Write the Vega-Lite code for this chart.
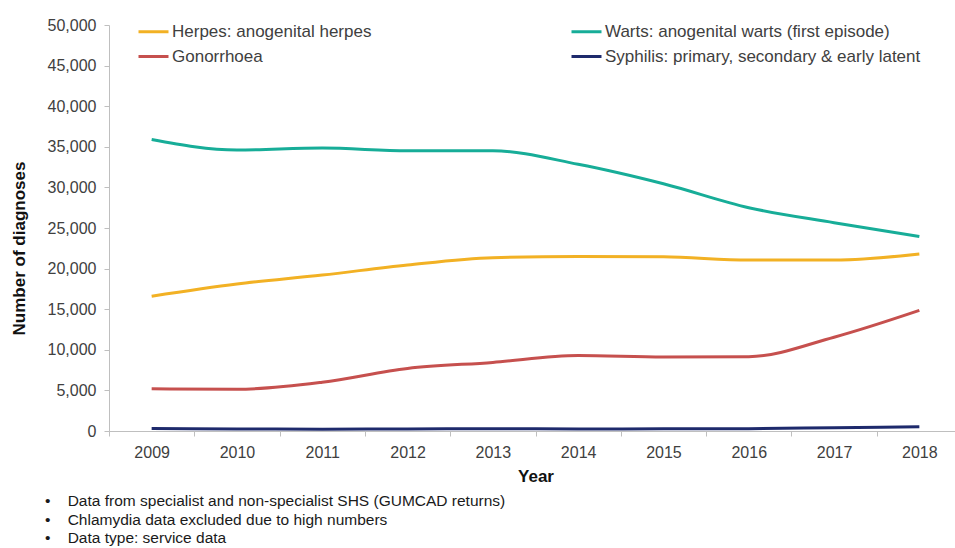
{
  "$schema": "https://vega.github.io/schema/vega-lite/v6.json",
  "width": 853,
  "height": 406,
  "autosize": {"type": "none"},
  "padding": {"left": 109, "top": 25, "right": 0, "bottom": 117},
  "background": "white",
  "config": {
    "view": {"stroke": null},
    "font": "Liberation Sans"
  },
  "title": {
    "text": [
      "•\u00a0\u00a0\u00a0\u00a0Data from specialist and non-specialist SHS (GUMCAD returns)",
      "•\u00a0\u00a0\u00a0\u00a0Chlamydia data excluded due to high numbers",
      "•\u00a0\u00a0\u00a0\u00a0Data type: service data"
    ],
    "orient": "bottom",
    "anchor": "start",
    "frame": "group",
    "dx": -64,
    "offset": 10,
    "fontSize": 15.5,
    "fontWeight": "normal",
    "color": "#1a1a1a",
    "lineHeight": 18.5
  },
  "data": {
    "values": [
      {"year": "2009", "infection": "Herpes: anogenital herpes", "diagnoses": 16600},
      {"year": "2010", "infection": "Herpes: anogenital herpes", "diagnoses": 18100},
      {"year": "2011", "infection": "Herpes: anogenital herpes", "diagnoses": 19200},
      {"year": "2012", "infection": "Herpes: anogenital herpes", "diagnoses": 20450},
      {"year": "2013", "infection": "Herpes: anogenital herpes", "diagnoses": 21350},
      {"year": "2014", "infection": "Herpes: anogenital herpes", "diagnoses": 21500},
      {"year": "2015", "infection": "Herpes: anogenital herpes", "diagnoses": 21450},
      {"year": "2016", "infection": "Herpes: anogenital herpes", "diagnoses": 21050},
      {"year": "2017", "infection": "Herpes: anogenital herpes", "diagnoses": 21050},
      {"year": "2018", "infection": "Herpes: anogenital herpes", "diagnoses": 21800},
      {"year": "2009", "infection": "Warts: anogenital warts (first episode)", "diagnoses": 35900},
      {"year": "2010", "infection": "Warts: anogenital warts (first episode)", "diagnoses": 34600},
      {"year": "2011", "infection": "Warts: anogenital warts (first episode)", "diagnoses": 34850},
      {"year": "2012", "infection": "Warts: anogenital warts (first episode)", "diagnoses": 34500},
      {"year": "2013", "infection": "Warts: anogenital warts (first episode)", "diagnoses": 34500},
      {"year": "2014", "infection": "Warts: anogenital warts (first episode)", "diagnoses": 32850},
      {"year": "2015", "infection": "Warts: anogenital warts (first episode)", "diagnoses": 30450},
      {"year": "2016", "infection": "Warts: anogenital warts (first episode)", "diagnoses": 27500},
      {"year": "2017", "infection": "Warts: anogenital warts (first episode)", "diagnoses": 25650},
      {"year": "2018", "infection": "Warts: anogenital warts (first episode)", "diagnoses": 23950},
      {"year": "2009", "infection": "Gonorrhoea", "diagnoses": 5200},
      {"year": "2010", "infection": "Gonorrhoea", "diagnoses": 5130},
      {"year": "2011", "infection": "Gonorrhoea", "diagnoses": 6000},
      {"year": "2012", "infection": "Gonorrhoea", "diagnoses": 7700},
      {"year": "2013", "infection": "Gonorrhoea", "diagnoses": 8450},
      {"year": "2014", "infection": "Gonorrhoea", "diagnoses": 9300},
      {"year": "2015", "infection": "Gonorrhoea", "diagnoses": 9100},
      {"year": "2016", "infection": "Gonorrhoea", "diagnoses": 9150},
      {"year": "2017", "infection": "Gonorrhoea", "diagnoses": 11550},
      {"year": "2018", "infection": "Gonorrhoea", "diagnoses": 14850},
      {"year": "2009", "infection": "Syphilis: primary, secondary & early latent", "diagnoses": 300},
      {"year": "2010", "infection": "Syphilis: primary, secondary & early latent", "diagnoses": 250},
      {"year": "2011", "infection": "Syphilis: primary, secondary & early latent", "diagnoses": 230},
      {"year": "2012", "infection": "Syphilis: primary, secondary & early latent", "diagnoses": 250},
      {"year": "2013", "infection": "Syphilis: primary, secondary & early latent", "diagnoses": 280},
      {"year": "2014", "infection": "Syphilis: primary, secondary & early latent", "diagnoses": 250},
      {"year": "2015", "infection": "Syphilis: primary, secondary & early latent", "diagnoses": 270},
      {"year": "2016", "infection": "Syphilis: primary, secondary & early latent", "diagnoses": 290},
      {"year": "2017", "infection": "Syphilis: primary, secondary & early latent", "diagnoses": 400},
      {"year": "2018", "infection": "Syphilis: primary, secondary & early latent", "diagnoses": 520}
    ]
  },
  "mark": {"type": "line", "interpolate": "monotone", "strokeWidth": 3},
  "encoding": {
    "x": {
      "field": "year",
      "type": "ordinal",
      "bandPosition": 0.5,
      "scale": {"type": "band", "paddingInner": 0, "paddingOuter": 0},
      "axis": {
        "title": "Year",
        "labelAngle": 0,
        "tickBand": "extent",
        "tickSize": 5,
        "labelPadding": 8,
        "labelFontSize": 16,
        "labelColor": "#404040",
        "domainColor": "#BFBFBF",
        "tickColor": "#BFBFBF",
        "titleFontSize": 17,
        "titleFontWeight": "bold",
        "titleColor": "#111111",
        "titlePadding": 8
      }
    },
    "y": {
      "field": "diagnoses",
      "type": "quantitative",
      "scale": {"domain": [0, 50000], "nice": false},
      "axis": {
        "title": "Number of diagnoses",
        "values": [0, 5000, 10000, 15000, 20000, 25000, 30000, 35000, 40000, 45000, 50000],
        "format": ",d",
        "grid": false,
        "tickSize": 5,
        "labelPadding": 8,
        "labelFontSize": 16,
        "labelColor": "#404040",
        "domainColor": "#BFBFBF",
        "tickColor": "#BFBFBF",
        "titleFontSize": 17,
        "titleFontWeight": "bold",
        "titleColor": "#111111",
        "titleX": -81,
        "titleY": 223
      }
    },
    "color": {
      "field": "infection",
      "type": "nominal",
      "scale": {
        "domain": [
          "Herpes: anogenital herpes",
          "Warts: anogenital warts (first episode)",
          "Gonorrhoea",
          "Syphilis: primary, secondary & early latent"
        ],
        "range": ["#F2B124", "#17AD98", "#C6504E", "#1E2A6C"]
      },
      "legend": {
        "title": null,
        "orient": "none",
        "legendX": 28,
        "legendY": -10,
        "columns": 2,
        "direction": "horizontal",
        "columnPadding": 193,
        "rowPadding": -7,
        "symbolType": "stroke",
        "symbolSize": 900,
        "symbolStrokeWidth": 3,
        "labelOffset": 2,
        "labelFontSize": 17,
        "labelColor": "#404040",
        "labelLimit": 400
      }
    }
  }
}
